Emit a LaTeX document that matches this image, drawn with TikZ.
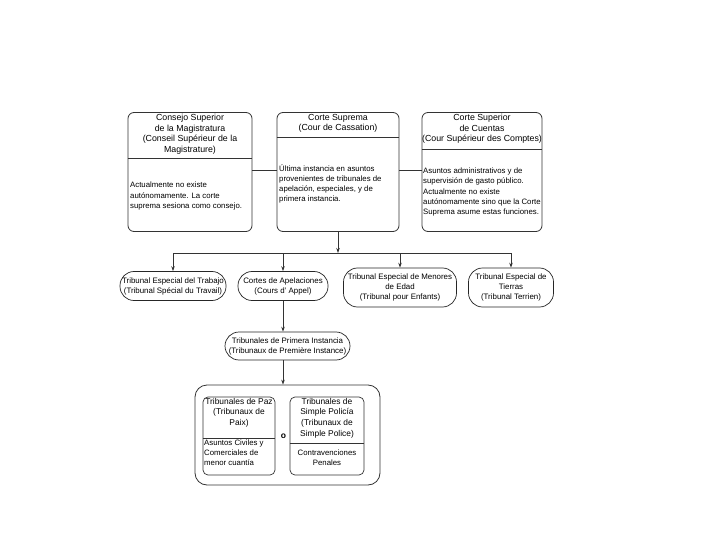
\documentclass[tikz,border=0pt]{standalone}
\usepackage{fontspec}
\setmainfont{Liberation Sans}
\usetikzlibrary{arrows.meta}
\begin{document}
\begin{tikzpicture}[x=1pt,y=-1pt,
  topbox/.style={draw=black!80, line width=0.8pt, rounded corners=6pt, inner sep=0pt},
  pill/.style={draw=black!85, line width=0.7pt, rounded corners=14pt, inner sep=0pt, align=center, font=\fontsize{7.9}{10}\selectfont},
  head/.style={align=center, inner sep=0pt, font=\fontsize{8.8}{10.6}\selectfont},
  headsm/.style={align=center, inner sep=0pt, font=\fontsize{8.4}{10.6}\selectfont},
  body/.style={align=left, inner sep=0pt, font=\fontsize{7.8}{10.2}\selectfont},
  divider/.style={draw=black!80, line width=0.8pt},
  conn/.style={draw=black!80, line width=0.7pt},
  arr/.style={conn, -{Stealth[length=5pt,width=3.5pt]}}
]
\useasboundingbox (0,0) rectangle (720,540);
\fill[white] (0,0) rectangle (720,540);

% top boxes
\node[topbox, minimum width=124pt, minimum height=119pt] (b1) at (190,172) {};
\node[topbox, minimum width=122pt, minimum height=119pt] (b2) at (338,172) {};
\node[topbox, minimum width=120pt, minimum height=119pt] (b3) at (482,172) {};
\draw[divider] (b1.west |- 0,158) -- (b1.east |- 0,158);
\draw[divider] (b2.west |- 0,137) -- (b2.east |- 0,137);
\draw[divider] (b3.west |- 0,149) -- (b3.east |- 0,149);

\node[head, anchor=north] (h1) at (190,114) {Consejo Superior\\de la Magistratura\\(Conseil Supérieur de la\\Magistrature)};
\node[body, anchor=west] (t1) at (130,196) {Actualmente no existe\\autónomamente. La corte\\suprema sesiona como consejo.};
\node[head, anchor=north] (h2) at (338,114) {Corte Suprema\\(Cour de Cassation)};
\node[body, anchor=west] (t2) at (279,184) {Última instancia en asuntos\\provenientes de tribunales de\\apelación, especiales, y de\\primera instancia.};
\node[head, anchor=north] (h3) at (482,114) {Corte Superior\\de Cuentas\\(Cour Supérieur des Comptes)};
\node[body, anchor=west] (t3) at (423,192) {Asuntos administrativos y de\\supervisión de gasto público.\\Actualmente no existe\\autónomamente sino que la Corte\\Suprema asume estas funciones.};

\draw[conn] (b1.east |- 0,170) -- (b2.west |- 0,170);
\draw[conn] (b2.east |- 0,170) -- (b3.west |- 0,170);

% second row
\node[pill, minimum width=106pt, minimum height=29pt] (tA) at (173,286) {Tribunal Especial del Trabajo\\(Tribunal Spécial du Travail)};
\node[pill, minimum width=90pt, minimum height=29pt] (tB) at (283,286) {Cortes de Apelaciones\\(Cours d' Appel)};
\node[pill, minimum width=113pt, minimum height=39pt] (tC) at (400,287.5) {Tribunal Especial de Menores\\de Edad\\(Tribunal pour Enfants)};
\node[pill, minimum width=85pt, minimum height=39pt] (tD) at (511,287.5) {Tribunal Especial de\\Tierras\\(Tribunal Terrien)};

\coordinate (j) at (338,253);
\coordinate (jA) at (173,253);
\coordinate (jD) at (511,253);
\draw[arr] (b2.south) -- (j);
\draw[conn] (jA) -- (jD);
\draw[arr] (jA) -- (tA.north);
\draw[arr] (tB.north |- j) -- (tB.north);
\draw[arr] (tC.north |- j) -- (tC.north);
\draw[arr] (jD) -- (tD.north);

% primera instancia
\node[pill, minimum width=125pt, minimum height=28pt] (tE) at (287.5,346) {Tribunales de Primera Instancia\\(Tribunaux de Première Instance)};
\draw[arr] (tB.south) -- (tB.south |- tE.north);

% bottom group
\node[draw=black!80, line width=0.8pt, rounded corners=12pt, minimum width=185pt, minimum height=100pt, inner sep=0pt] (g) at (287.5,435) {};
\draw[arr] (tB.south |- tE.south) -- (tB.south |- g.north);

\node[draw=black!80, line width=0.7pt, rounded corners=5pt, minimum width=72pt, minimum height=78pt, inner sep=0pt] (p1) at (239,436) {};
\node[draw=black!80, line width=0.7pt, rounded corners=5pt, minimum width=74pt, minimum height=78pt, inner sep=0pt] (p2) at (327,436) {};
\draw[divider, line width=0.6pt] (p1.west |- 0,438) -- (p1.east |- 0,438);
\draw[divider, line width=0.6pt] (p2.west |- 0,443) -- (p2.east |- 0,443);

\node[headsm, anchor=north] (h4) at (239,398) {Tribunales de Paz\\(Tribunaux de\\Paix)};
\node[body, anchor=west] (t4) at (204,453) {Asuntos Civiles y\\Comerciales de\\menor cuantía};
\node[headsm, anchor=north] (h5) at (327,398) {Tribunales de\\Simple Policía\\(Tribunaux de\\Simple Police)};
\node[body, align=center] (t5) at (327,458) {Contravenciones\\Penales};
\node[inner sep=0pt, font=\fontsize{8.5}{10}\selectfont\bfseries] (o) at (283.5,436) {o};
\end{tikzpicture}
\end{document}
